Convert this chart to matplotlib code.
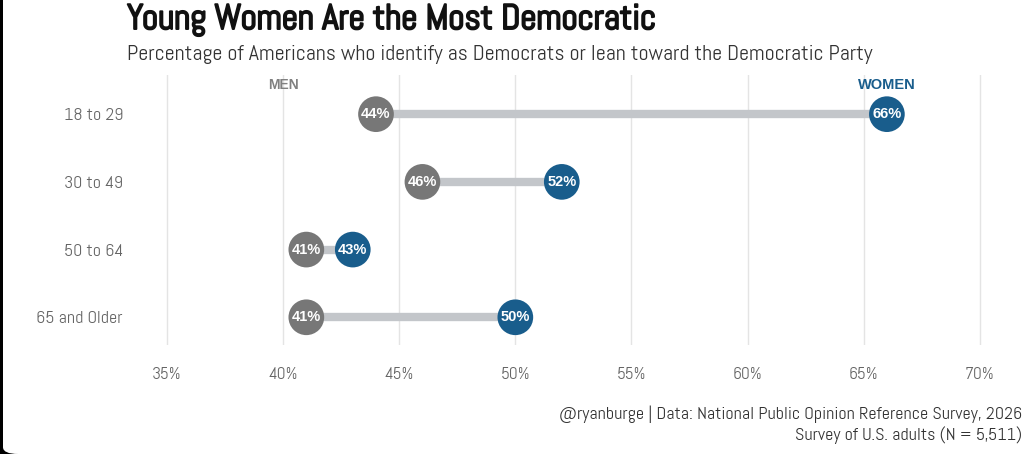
import matplotlib
matplotlib.use('Agg')
import matplotlib.pyplot as plt
import matplotlib.patheffects as pe
from matplotlib.patches import FancyBboxPatch

# data
groups = ['18 to 29', '30 to 49', '50 to 64', '65 and Older']
men = [44, 46, 41, 41]
women = [66, 52, 43, 50]
xticks = [35, 40, 45, 50, 55, 60, 65, 70]

font = 'Abel'
grey = '#777777'
blue = '#195d8c'
bar = '#c3c6ca'

fig = plt.figure(figsize=(10.24, 4.54), dpi=100)
fig.patch.set_facecolor('black')
# white card with rounded bottom corners, like the screenshot
card = FancyBboxPatch((3 / 1024, 0), 1040 / 1024, 1.2,
                      boxstyle='round,pad=0,rounding_size=0.015',
                      transform=fig.transFigure, facecolor='white',
                      edgecolor='none', zorder=-10)
fig.patches.append(card)

ax = fig.add_axes([0.1404, 0.240, 0.8391, 0.595])
ax.set_facecolor('none')
ys = list(range(len(groups), 0, -1))

for y, m, w in zip(ys, men, women):
    ax.plot([m, w], [y, y], color=bar, lw=6, solid_capstyle='butt', zorder=1)
ax.scatter(men, ys, s=660, color=grey, zorder=3, edgecolors='none')
ax.scatter(women, ys, s=660, color=blue, zorder=3, edgecolors='none')
for y, m, w in zip(ys, men, women):
    ax.text(m, y, f'{m}%', color='white', fontsize=10.5, fontweight='bold',
            family='Liberation Sans', ha='center', va='center', zorder=4)
    ax.text(w, y, f'{w}%', color='white', fontsize=10.5, fontweight='bold',
            family='Liberation Sans', ha='center', va='center', zorder=4)

ax.text(40, ys[0] + 0.43, 'MEN', color='#808080', fontsize=10,
        fontweight='bold', family='Liberation Sans', ha='center', va='center')
ax.text(66, ys[0] + 0.43, 'WOMEN', color=blue, fontsize=10.5,
        fontweight='bold', family='Liberation Sans', ha='center', va='center')

ax.set_xlim(34, 71)
ax.set_ylim(0.59, 4.58)
ax.set_xticks(xticks)
ax.set_xticklabels([f'{t}%' for t in xticks])
ax.set_yticks(ys)
ax.set_yticklabels(groups)
ax.grid(axis='x', color='#e4e4e4', lw=1)
ax.set_axisbelow(True)
ax.tick_params(length=0, labelcolor='#666666')
ax.tick_params(axis='x', pad=16, labelsize=12.5)
ax.tick_params(axis='y', pad=15, labelsize=13)
for lab in ax.get_xticklabels() + ax.get_yticklabels():
    lab.set_family(font)
for s in ax.spines.values():
    s.set_visible(False)

fig.text(127 / 1024, 1 - 20 / 454, 'Young Women Are the Most Democratic',
         family=font, fontsize=25.5, color='#111111', va='center', ha='left',
         path_effects=[pe.withStroke(linewidth=1.4, foreground='#111111')])
fig.text(127 / 1024, 1 - 54 / 454,
         'Percentage of Americans who identify as Democrats or lean toward the Democratic Party',
         family=font, fontsize=15.8, color='#333333', va='center', ha='left')
fig.text(1022 / 1024, 1 - 414 / 454,
         '@ryanburge | Data: National Public Opinion Reference Survey, 2026',
         family=font, fontsize=13, color='#333333', va='center', ha='right')
fig.text(1022 / 1024, 1 - 435 / 454, 'Survey of U.S. adults (N = 5,511)',
         family=font, fontsize=13, color='#333333', va='center', ha='right')

fig.savefig('out.png', dpi=100, facecolor=fig.get_facecolor())
